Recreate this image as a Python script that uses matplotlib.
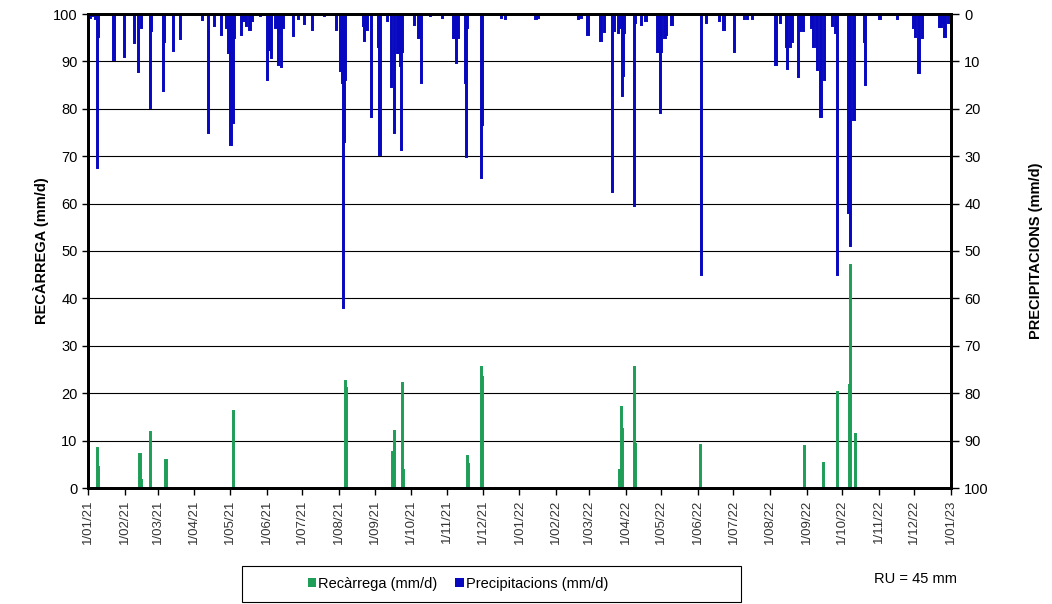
import numpy as np
import matplotlib
matplotlib.use("Agg")
import matplotlib.pyplot as plt
from matplotlib.patches import Patch, Rectangle

plt.rcParams['font.family'] = ['Liberation Sans', 'DejaVu Sans']

# ---- data (days since 2021-01-01) ----
precip_days = [2, 4, 6, 8, 9, 22, 31, 39, 43, 45, 53, 54, 64, 65, 72, 78, 97, 102, 107, 113,
               117, 119, 120, 121, 122, 123, 124, 130, 132, 134, 137, 139, 146, 152, 153, 154,
               155, 159, 161, 162, 164, 165, 174, 178, 183, 190, 200, 210, 214, 215, 216, 217,
               218, 233, 234, 236, 240, 246, 247, 253, 257, 259, 262, 263, 264, 265, 266, 276,
               280, 282, 290, 300, 309, 310, 311, 312, 313, 319, 320, 321, 333, 334, 350, 353,
               379, 381, 415, 417, 423, 434, 437, 444, 445, 449, 450, 452, 453, 454, 462, 463,
               468, 472, 482, 483, 484, 485, 488, 489, 494, 519, 523, 534, 538, 547, 555, 558,
               562, 582, 586, 591, 592, 594, 596, 601, 603, 604, 605, 612, 614, 616, 617, 620,
               623, 630, 632, 634, 643, 644, 645, 648, 657, 658, 670, 685, 698, 700, 703, 706,
               720, 722, 724, 725, 728]
precip_vals = [0.8, 0.5, 1.0, 32.5, 4.8, 9.6, 9.0, 6.2, 12.2, 3.0, 19.9, 3.5, 16.2, 6.0, 7.9, 5.3, 1.3, 25.0, 2.5, 4.4,
               3.0, 8.2, 5.5, 27.6, 6.0, 23.0, 5.0, 4.4, 1.5, 2.5, 3.3, 1.5, 0.5, 13.9, 5.0, 7.6,
               9.2, 3.0, 10.8, 4.0, 11.2, 3.0, 4.6, 1.0, 2.1, 3.4, 0.5, 3.4, 12.0, 14.6, 62.0, 27.0,
               14.0, 2.5, 5.8, 3.4, 21.7, 7.0, 29.7, 1.5, 15.3, 25.2, 8.3, 8.3, 11.0, 28.7, 8.0, 2.3,
               5.0, 14.6, 0.5, 0.8, 5.1, 5.1, 4.0, 10.4, 5.0, 14.6, 30.1, 3.0, 34.6, 23.4, 0.8, 1.0,
               1.0, 0.8, 1.0, 0.8, 4.4, 5.8, 3.8, 37.5, 3.5, 4.0, 3.0, 17.4, 13.0, 4.0, 40.5, 2.0,
               2.3, 1.5, 8.0, 8.0, 20.9, 8.0, 5.1, 4.4, 2.3, 55.0, 2.0, 1.5, 3.4, 8.1, 1.0, 1.0,
               1.0, 10.8, 2.0, 6.9, 11.5, 6.9, 6.0, 13.2, 3.5, 3.0, 3.5, 3.0, 7.0, 7.0, 11.8, 21.7,
               13.9, 2.5, 4.0, 55.0, 42.0, 4.0, 49.0, 22.4, 6.0, 15.0, 1.0, 1.0, 3.0, 4.8, 12.5, 5.0,
               2.8, 2.8, 2.0, 4.8, 2.0]

recharge_days = [8, 9, 44, 45, 53, 66, 123, 218, 219, 258, 259, 266, 267, 321, 322, 333, 334,
                 450, 451, 452, 462, 463, 518, 606, 622, 634, 644, 645, 649]
recharge_vals = [8.4, 4.4, 7.2, 1.7, 11.9, 5.9, 16.3, 22.6, 21.0, 7.5, 12.0, 22.1, 3.8, 6.8, 5.0, 25.5, 23.5,
                 3.7, 17.0, 12.4, 25.5, 9.2, 9.1, 8.9, 5.3, 20.3, 21.7, 47.0, 11.3]

start = np.datetime64('2021-01-01')
end = np.datetime64('2023-01-01')
precip_dates = start + np.array(precip_days, dtype='timedelta64[D]')
recharge_dates = start + np.array(recharge_days, dtype='timedelta64[D]')

GREEN = '#1f9e58'
BLUE = '#0808c0'

fig = plt.figure(figsize=(10.52, 6.04), dpi=100)
ax = fig.add_axes([88/1052, 1-488/604, (951-88)/1052, (488-14)/604])
ax2 = ax.twinx()

ax.set_ylim(0, 100)
ax.set_yticks(np.arange(0, 101, 10))
ax.yaxis.grid(True, color='black', linewidth=0.8)
ax.set_axisbelow(True)
ax.bar(recharge_dates, recharge_vals, width=1.0, color=GREEN, edgecolor=GREEN, linewidth=1.4, align='center')

ax2.set_ylim(100, 0)
ax2.set_yticks(np.arange(0, 101, 10))
ax2.bar(precip_dates, precip_vals, width=1.0, color=BLUE, edgecolor=BLUE, linewidth=1.4, align='center')

ax.set_xlim(start, end)
months = np.arange(np.datetime64('2021-01'), np.datetime64('2023-02'), dtype='datetime64[M]').astype('datetime64[D]')
ax.set_xticks(months)
ax.set_xticklabels([f"1/{str(m.astype(object).month).zfill(2)}/{str(m.astype(object).year)[2:]}" for m in months],
                   rotation=90, fontsize=9.5, color='#333333')

for a in (ax, ax2):
    for s in a.spines.values():
        s.set_linewidth(2)
        s.set_color('black')
ax.tick_params(axis='y', labelsize=10.5, length=4, width=1)
ax2.tick_params(axis='y', labelsize=10.5, length=6, width=1)
ax.tick_params(axis='x', length=5, width=1)

ax.set_ylabel('RECÀRREGA (mm/d)', fontsize=10.5, fontweight='bold')
ax.yaxis.set_label_coords((49-88)/863, 0.5)
ax2.set_ylabel('PRECIPITACIONS (mm/d)', fontsize=10.5, fontweight='bold')
ax2.yaxis.set_label_coords((1029-88)/863, 0.5)

# legend box
fig.add_artist(Rectangle((242/1052, 1-602/604), (741-242)/1052, 36/604, transform=fig.transFigure,
                         facecolor='white', edgecolor='black', linewidth=0.8))
handles = [Patch(facecolor=GREEN, edgecolor='none'), Patch(facecolor=BLUE, edgecolor='none')]
leg = fig.legend(handles, ['Recàrrega (mm/d)', 'Precipitacions (mm/d)'], ncol=2,
                 bbox_to_anchor=(458/1052, 1-584/604), loc='center',
                 fontsize=10.5, frameon=False,
                 handlelength=0.6, handleheight=0.6, handletextpad=0.15, columnspacing=1.2)
fig.text(915/1052, 1-579/604, 'RU = 45 mm', fontsize=10.5, ha='center', va='center')

fig.savefig('out.png', dpi=100)
